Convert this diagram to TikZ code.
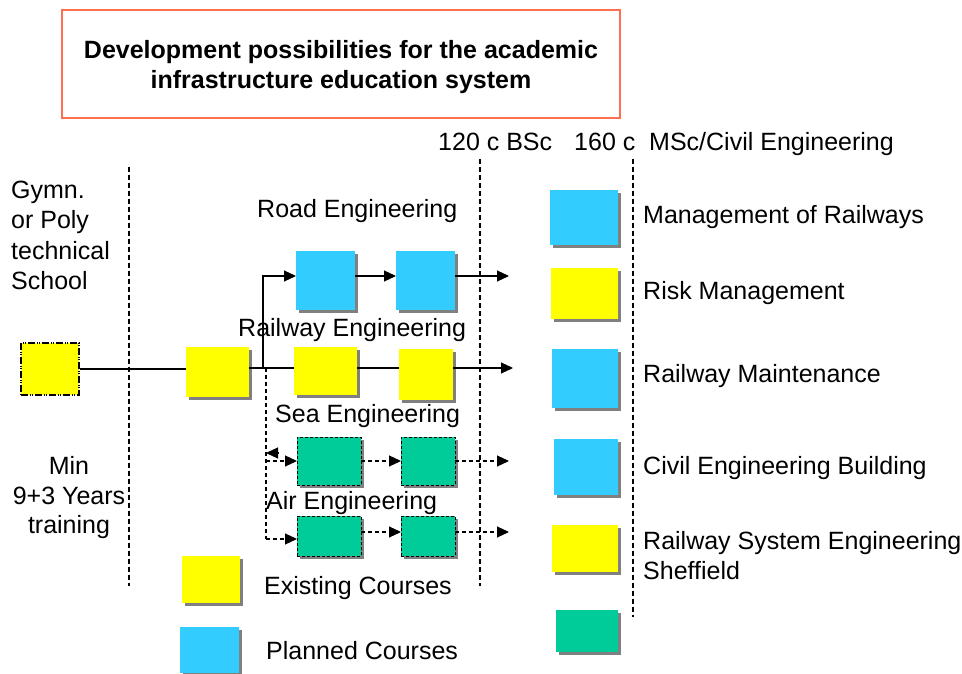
\documentclass[tikz,border=0pt]{standalone}
\usepackage{fontspec}
\setmainfont{Liberation Sans}
\usetikzlibrary{arrows.meta,shadows}
\definecolor{cyel}{HTML}{FFFF00}
\definecolor{cblu}{HTML}{33CCFF}
\definecolor{cgrn}{HTML}{00CC99}
\definecolor{cshd}{HTML}{808080}
\definecolor{cttl}{HTML}{FF6E50}
\tikzset{
  box/.style={draw=none, inner sep=0pt, outer sep=0pt,
    drop shadow={shadow xshift=3pt, shadow yshift=-3pt, fill=cshd, opacity=1}},
  ybox/.style={box, fill=cyel},
  bbox/.style={box, fill=cblu},
  gbox/.style={box, fill=cgrn},
  gdash/.style={gbox, draw=black, line width=0.9pt, dash pattern=on 3pt off 2pt},
  lbl/.style={inner sep=0pt, anchor=base west, font=\fontsize{25}{30}\selectfont},
  lblc/.style={lbl, anchor=base},
  ttl/.style={inner sep=0pt, anchor=base, font=\bfseries\fontsize{25}{30}\selectfont},
  conn/.style={line width=1.1pt, -{Triangle[length=12pt,width=11pt]}},
  plain/.style={line width=1.1pt},
  dconn/.style={conn, dash pattern=on 4pt off 3pt},
  dplain/.style={plain, dash pattern=on 4pt off 3pt},
  sep/.style={line width=1.4pt, dash pattern=on 5pt off 3pt},
}
\begin{document}
\begin{tikzpicture}[x=1pt,y=-1pt]
\useasboundingbox (0,0) rectangle (962,674);

% title
\node[draw=cttl, line width=1.6pt, minimum width=558pt, minimum height=108pt, inner sep=0pt] (title) at (341,64) {};
\node[ttl] (t1) at (341,59) {Development possibilities for the academic};
\node[ttl] (t2) at (341,89) {infrastructure education system};

% column separators
\coordinate (s1a) at (129,167); \coordinate (s1b) at (129,586);
\coordinate (s2a) at (480,159); \coordinate (s2b) at (480,586);
\coordinate (s3a) at (633,159); \coordinate (s3b) at (633,617);
\draw[sep] (s1a) -- (s1b);
\draw[sep] (s2a) -- (s2b);
\draw[sep] (s3a) -- (s3b);

% header labels
\node[lbl] (bsc) at (438,151) {120 c BSc};
\node[lbl] (msc) at (574,151) {160 c~~MSc/Civil Engineering};

% left column
\node[lbl] (g1) at (11,199) {Gymn.};
\node[lbl] (g2) at (11,229) {or Poly};
\node[lbl] (g3) at (11,259) {technical};
\node[lbl] (g4) at (11,289) {School};
\node[lblc] (m1) at (69,474) {Min};
\node[lblc] (m2) at (69,504) {9+3 Years};
\node[lblc] (m3) at (69,533) {training};

% course boxes
\node[fill=cyel, draw=black, line width=1.3pt, dash pattern=on 7pt off 2pt on 1pt off 1pt on 1pt off 2pt,
      minimum width=58pt, minimum height=52pt, inner sep=0pt] (start) at (50,369) {};
\node[ybox, minimum width=63pt, minimum height=50pt] (r1) at (217.5,372) {};
\node[bbox, minimum width=59pt, minimum height=59pt] (rd1) at (325.5,280.5) {};
\node[bbox, minimum width=59pt, minimum height=59pt] (rd2) at (425.5,280.5) {};
\node[ybox, minimum width=63pt, minimum height=48pt] (rw1) at (325.5,371) {};
\node[ybox, minimum width=54pt, minimum height=51pt] (rw2) at (426,374.5) {};
\node[gdash, minimum width=64pt, minimum height=48pt] (se1) at (329,461) {};
\node[gdash, minimum width=54pt, minimum height=48pt] (se2) at (428,461) {};
\node[gdash, minimum width=64pt, minimum height=40pt] (a1) at (329,536) {};
\node[gdash, minimum width=54pt, minimum height=40pt] (a2) at (428,536) {};

% branch labels
\node[lbl] (road) at (257,218) {Road Engineering};
\node[lbl] (rail) at (238,336) {Railway Engineering};
\node[lbl] (sea) at (275,422) {Sea Engineering};
\node[lbl] (air) at (266,509) {Air Engineering};

% connectors
\coordinate (j) at (263,368);
\coordinate (rr) at (263,276);
\coordinate (k) at (266,368);
\coordinate (ks) at (266,461);
\coordinate (ka) at (266,539);
\coordinate (rdo) at (509,276);
\coordinate (rwo) at (513,368);
\coordinate (seo) at (509,461);
\coordinate (ao) at (509,532);
\coordinate (tipa) at (278,453);
\coordinate (tipb) at (266,453);

\draw[plain] (start.east) -- (start.east -| r1.west);
\draw[plain] (r1.east |- j) -- (rw1.west |- j);
\draw[conn] (j) -- (rr) -- (rr -| rd1.west);
\draw[conn] (rd1.east |- rr) -- (rd2.west |- rr);
\draw[conn] (rd2.east |- rr) -- (rdo);
\draw[plain] (rw1.east |- j) -- (rw2.west |- j);
\draw[conn] (rw2.east |- j) -- (rwo);

\draw[dplain] (k) -- (ka);
\draw[dconn] (ks) -- (ks -| se1.west);
\draw[dconn] (ka) -- (ka -| a1.west);
\draw[-{Triangle[length=12pt,width=11pt]}, line width=1.1pt] (tipa) -- (tipb);
\draw[dconn] (se1.east) -- (se2.west);
\draw[dconn] (se2.east) -- (seo);
\draw[dconn] (a1.east |- ao) -- (a2.west |- ao);
\draw[dconn] (a2.east |- ao) -- (ao);

% MSc column
\node[bbox, minimum width=68pt, minimum height=55pt] (c1) at (584,217.5) {};
\node[ybox, minimum width=67pt, minimum height=51pt] (c2) at (584.5,293.5) {};
\node[bbox, minimum width=66pt, minimum height=59pt] (c3) at (585,378.5) {};
\node[bbox, minimum width=64pt, minimum height=56pt] (c4) at (586,467) {};
\node[ybox, minimum width=66pt, minimum height=47pt] (c5) at (585,548.5) {};
\node[gbox, minimum width=62pt, minimum height=42pt] (c6) at (587,631) {};

\node[lbl] (l1) at (643,224) {Management of Railways};
\node[lbl] (l2) at (643,299) {Risk Management};
\node[lbl] (l3) at (643,382) {Railway Maintenance};
\node[lbl] (l4) at (643,474) {Civil Engineering Building};
\node[lbl] (l5) at (643,549) {Railway System Engineering};
\node[lbl] (l6) at (643,579) {Sheffield};

% legend
\node[ybox, minimum width=58pt, minimum height=47pt] (ly) at (211,579.5) {};
\node[bbox, minimum width=59pt, minimum height=46pt] (lb) at (209.5,650) {};
\node[lbl] (lyt) at (264,594) {Existing Courses};
\node[lbl] (lbt) at (266,659) {Planned Courses};
\end{tikzpicture}
\end{document}
